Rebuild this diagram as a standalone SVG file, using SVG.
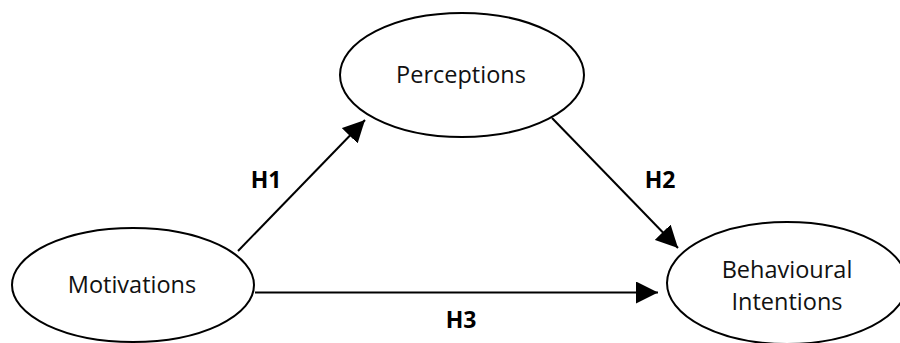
<svg xmlns="http://www.w3.org/2000/svg" width="900" height="343" viewBox="0 0 900 343">
<style>
.node ellipse{fill:#fff;stroke:#000;stroke-width:2}
.node text{font-family:"Open Sans","DejaVu Sans",sans-serif;font-size:23.5px;fill:#111;text-anchor:middle}
.lbl{font-family:"Open Sans","DejaVu Sans",sans-serif;font-size:23px;font-weight:bold;fill:#000;text-anchor:middle}
.edge{stroke:#000;stroke-width:2;fill:none;marker-end:url(#ah)}
</style>
<defs>
<marker id="ah" markerWidth="11" markerHeight="11" refX="11" refY="5.5" orient="auto" markerUnits="strokeWidth">
<path d="M0,0 L11,5.5 L0,11 Z" fill="#000"/>
</marker>
</defs>
<rect width="900" height="343" fill="#fff"/>
<g id="connectors">
<line class="edge" x1="238" y1="251" x2="365" y2="120"/>
<line class="edge" x1="552" y1="118" x2="678" y2="248"/>
<line class="edge" x1="255" y1="292.5" x2="658" y2="292.5"/>
</g>
<g id="node-motivations" class="node">
<ellipse cx="133" cy="285" rx="121" ry="57"/>
<text x="132" y="293">Motivations</text>
</g>
<g id="node-perceptions" class="node">
<ellipse cx="462" cy="75" rx="122" ry="62"/>
<text x="461" y="83">Perceptions</text>
</g>
<g id="node-intentions" class="node">
<ellipse cx="787" cy="283" rx="120" ry="61"/>
<text x="787" y="278">Behavioural</text>
<text x="787" y="310">Intentions</text>
</g>
<g id="labels">
<text class="lbl" x="266" y="188">H1</text>
<text class="lbl" x="660" y="188">H2</text>
<text class="lbl" x="461" y="328">H3</text>
</g>
</svg>
